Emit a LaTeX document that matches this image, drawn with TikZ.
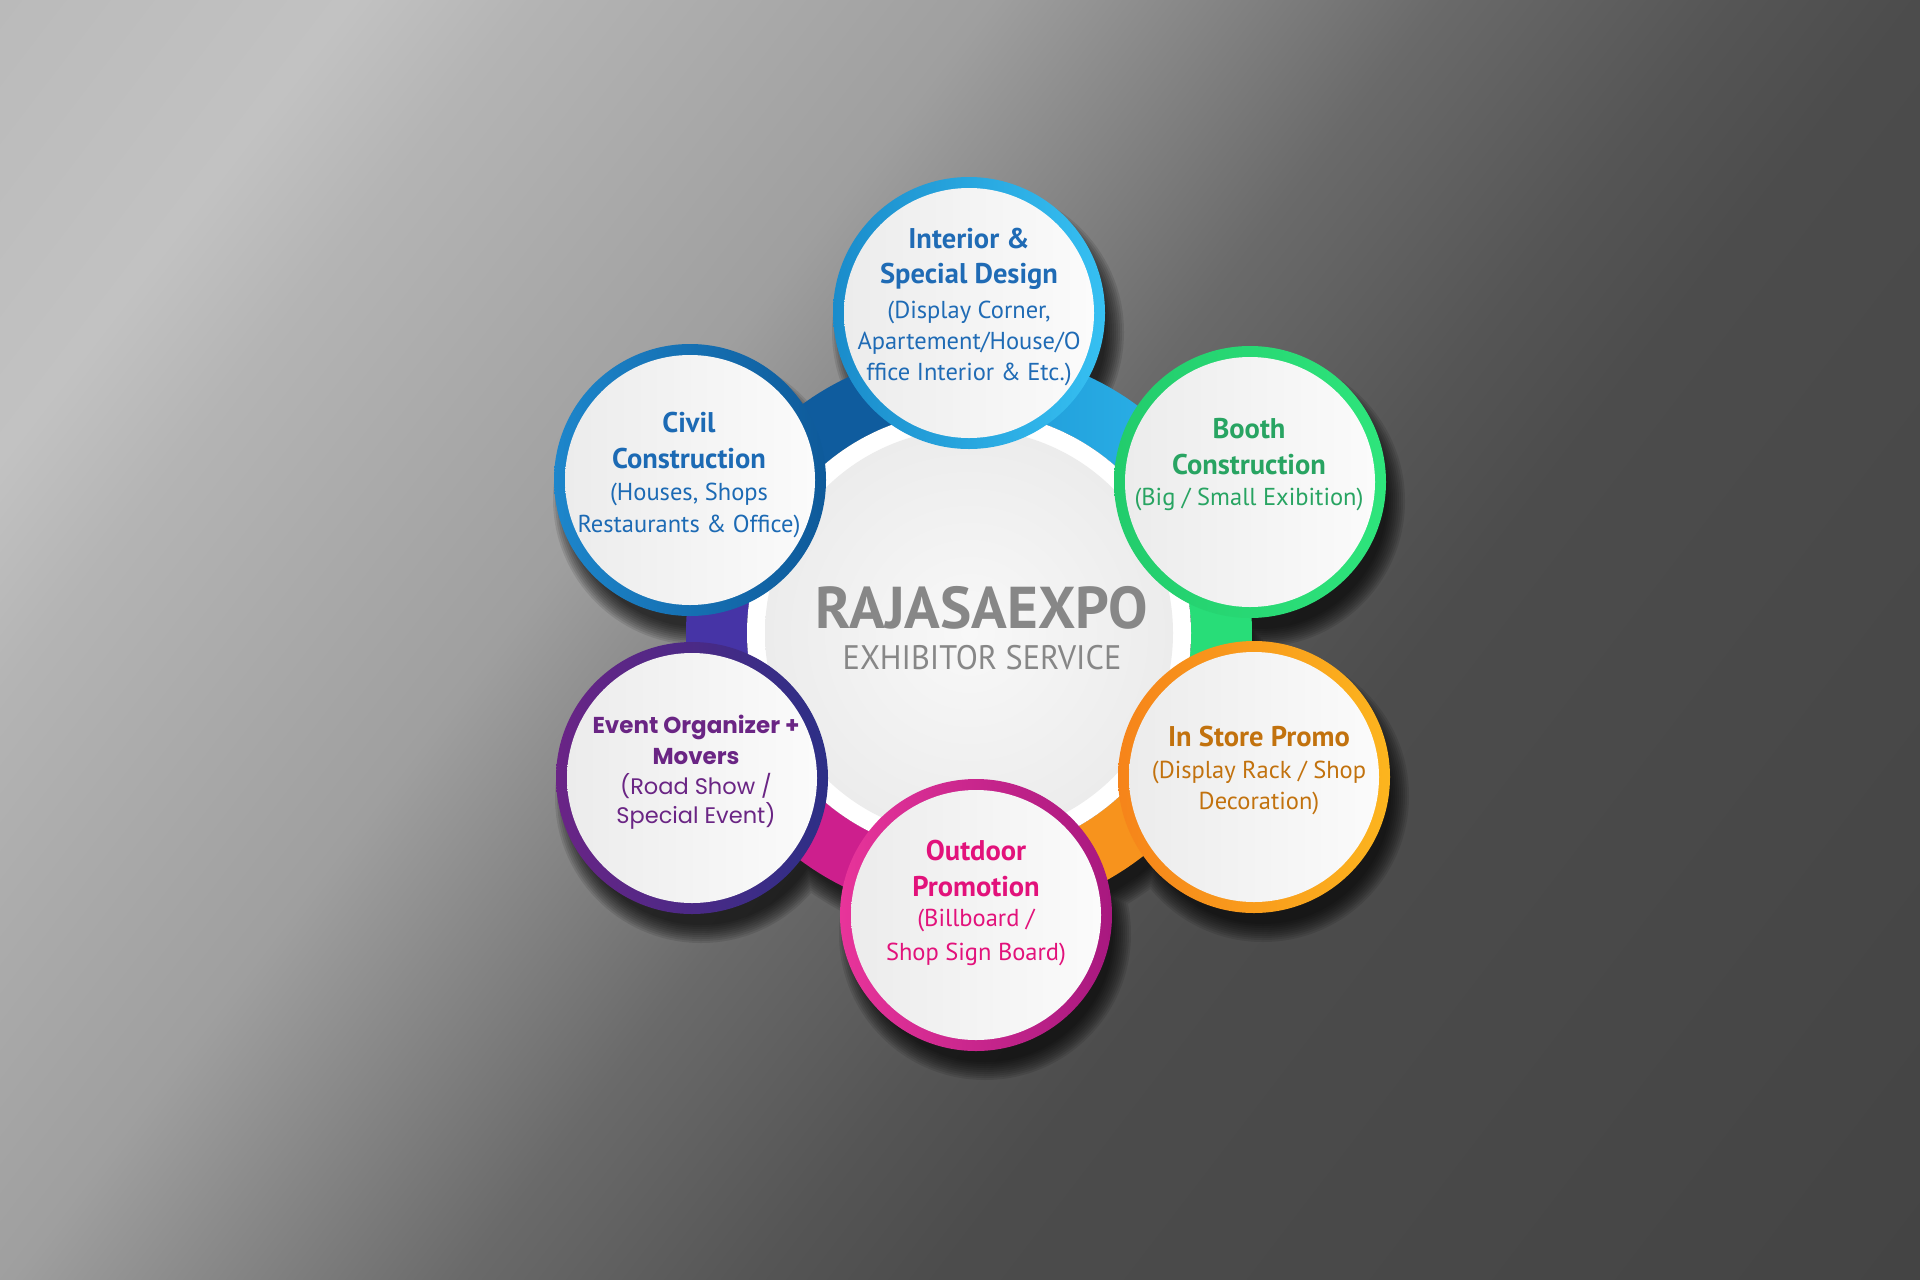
\documentclass[tikz,border=0pt]{standalone}
\usepackage{fontspec}
\setmainfont{PT Sans}
\newfontfamily\montfont{Poppins}
\usepackage{graphicx}
\definecolor{bg0}{HTML}{BABABA}
\definecolor{bg1}{HTML}{C2C2C2}
\definecolor{bg2}{HTML}{B4B4B4}
\definecolor{bg3}{HTML}{9F9F9F}
\definecolor{bg4}{HTML}{8C8C8C}
\definecolor{bg5}{HTML}{6A6A6A}
\definecolor{bg6}{HTML}{555555}
\definecolor{bg7}{HTML}{4C4C4C}
\definecolor{bg8}{HTML}{444444}
\definecolor{fillL}{HTML}{ECECEC}
\definecolor{fillR}{HTML}{FBFBFB}
\definecolor{intL}{HTML}{1A8CCB}
\definecolor{intR}{HTML}{36C0F2}
\definecolor{intT}{HTML}{1F6BB5}
\definecolor{civL}{HTML}{1D86CB}
\definecolor{civR}{HTML}{0E5A9A}
\definecolor{civT}{HTML}{1C6AB4}
\definecolor{booL}{HTML}{22CC6C}
\definecolor{booR}{HTML}{2EE57C}
\definecolor{booT}{HTML}{28A462}
\definecolor{insL}{HTML}{F6841A}
\definecolor{insR}{HTML}{FCB51E}
\definecolor{insT}{HTML}{C2720E}
\definecolor{outL}{HTML}{E8349A}
\definecolor{outR}{HTML}{A8187F}
\definecolor{outT}{HTML}{E2127B}
\definecolor{evtL}{HTML}{6A2486}
\definecolor{evtR}{HTML}{2C2F86}
\definecolor{evtT}{HTML}{6A2584}
\definecolor{segLBa}{HTML}{1E98D6}
\definecolor{segLBb}{HTML}{2DB6EB}
\definecolor{segGR}{HTML}{28DD78}
\definecolor{segOR}{HTML}{F7931D}
\definecolor{segMG}{HTML}{CD1F8D}
\definecolor{segIN}{HTML}{4634A6}
\definecolor{segDB}{HTML}{0F5C9E}
\definecolor{ctext}{HTML}{878787}
\definecolor{diskIn}{HTML}{F8F8F8}
\definecolor{diskOut}{HTML}{ECECEC}
\pgfdeclarehorizontalshading{bgshade}{100bp}{color(0bp)=(bg0); color(20bp)=(bg0); color(27.3bp)=(bg1); color(31bp)=(bg2); color(40.5bp)=(bg3); color(43.8bp)=(bg4); color(49.8bp)=(bg5); color(55.9bp)=(bg6); color(59.7bp)=(bg7); color(80bp)=(bg8); color(100bp)=(bg8)}
\tikzset{
  lbl/.style={anchor=base, inner sep=0pt, outer sep=0pt},
  bubble/.style={circle, minimum size=272pt, inner sep=0pt, draw=none},
  bubblein/.style={circle, minimum size=250pt, inner sep=0pt, draw=none, left color=fillL, right color=fillR},
  ttl/.style={lbl, font=\fontsize{28.5}{30}\selectfont\bfseries},
  sub/.style={lbl, font=\fontsize{24.5}{26}\selectfont},
  ettl/.style={lbl, font=\montfont\fontsize{23}{25}\selectfont\bfseries},
  esub/.style={lbl, font=\montfont\fontsize{22.5}{24}\selectfont},
  shadowlayer/.style={black, opacity=0.1},
}
\begin{document}
\begin{tikzpicture}[x=1pt,y=1pt]
\useasboundingbox (0,0) rectangle (1920,-1280);
% background
\begin{scope}
  \clip (0,0) rectangle (1920,-1280);
  \shade[shading=bgshade, shading angle=-37.5] (0,320) rectangle (1920,-1600);
\end{scope}
% soft shadows (union per layer)
\foreach \e in {10,8,...,-8}{
  \fill[shadowlayer]
    (978,-652) circle ({283+\e})
    (978,-332) circle ({136+\e})
    (699,-499) circle ({136+\e})
    (1259,-501) circle ({136+\e})
    (701,-797) circle ({136+\e})
    (1263,-796) circle ({136+\e})
    (985,-934) circle ({136+\e});
}
% ring segments
\begin{scope}[shift={(969,-633)}]
  \shade[left color=segLBa, right color=segLBb] (91:283) arc[start angle=91, end angle=28.3, radius=283] -- (28.3:222) arc[start angle=28.3, end angle=91, radius=222] -- cycle;
  \fill[segGR] (28.3:283) arc[start angle=28.3, end angle=-26.8, radius=283] -- (-26.8:222) arc[start angle=-26.8, end angle=28.3, radius=222] -- cycle;
  \fill[segOR] (-26.8:283) arc[start angle=-26.8, end angle=-88.6, radius=283] -- (-88.6:222) arc[start angle=-88.6, end angle=-26.8, radius=222] -- cycle;
  \fill[segMG] (-88.6:283) arc[start angle=-88.6, end angle=-152.4, radius=283] -- (-152.4:222) arc[start angle=-152.4, end angle=-88.6, radius=222] -- cycle;
  \fill[segIN] (-152.4:283) arc[start angle=-152.4, end angle=-208.7, radius=283] -- (-208.7:222) arc[start angle=-208.7, end angle=-152.4, radius=222] -- cycle;
  \fill[segDB] (151.3:283) arc[start angle=151.3, end angle=90, radius=283] -- (90:222) arc[start angle=90, end angle=151.3, radius=222] -- cycle;
\end{scope}
% central disk
\node[circle, minimum size=444pt, inner sep=0pt, fill=white] (wdisk) at (969,-633) {};
\node[circle, minimum size=408pt, inner sep=0pt, inner color=diskIn, outer color=diskOut] (gdisk) at (969,-633) {};
% bubbles
\node[bubble, left color=intL, right color=intR] (interior) at (969,-313) {};
\node[bubblein] (interiorin) at (interior.center) {};
\node[bubble, left color=civL, right color=civR] (civil) at (690,-480) {};
\node[bubblein] (civilin) at (civil.center) {};
\node[bubble, left color=booL, right color=booR] (booth) at (1250,-482) {};
\node[bubblein] (boothin) at (booth.center) {};
\node[bubble, left color=evtL, right color=evtR] (event) at (692,-778) {};
\node[bubblein] (eventin) at (event.center) {};
\node[bubble, left color=insL, right color=insR] (instore) at (1254,-777) {};
\node[bubblein] (instorein) at (instore.center) {};
\node[bubble, left color=outL, right color=outR] (outdoor) at (976,-915) {};
\node[bubblein] (outdoorin) at (outdoor.center) {};
% center text
\node[lbl, text=ctext, font=\fontsize{59}{62}\selectfont\bfseries] (rajasa) at (982,-628) {\scalebox{1.0}[1]{RAJASAEXPO}};
\node[lbl, text=ctext, font=\fontsize{34}{36}\selectfont] (exhib) at (982,-669) {\scalebox{0.95}[1]{EXHIBITOR SERVICE}};
% interior text
\node[ttl, text=intT] (int1) at (969,-248) {Interior \&};
\node[ttl, text=intT] (int2) at (969,-283) {Special Design};
\node[sub, text=intT] (int3) at (969,-318) {(Display Corner,};
\node[sub, text=intT] (int4) at (969,-349) {Apartement/House/O};
\node[sub, text=intT] (int5) at (969,-380.5) {ffice Interior \& Etc.)};
% civil text
\node[ttl, text=civT] (civ1) at (689,-432) {Civil};
\node[ttl, text=civT] (civ2) at (689,-468) {Construction};
\node[sub, text=civT] (civ3) at (689,-500.5) {(Houses, Shops};
\node[sub, text=civT] (civ4) at (689,-532) {Restaurants \& Office)};
% booth text
\node[ttl, text=booT] (boo1) at (1249,-438) {Booth};
\node[ttl, text=booT] (boo2) at (1249,-474) {Construction};
\node[sub, text=booT] (boo3) at (1249,-505.5) {(Big / Small Exibition)};
% event text
\node[ettl, text=evtT] (evt1) at (696,-733) {Event Organizer +};
\node[ettl, text=evtT] (evt2) at (696,-764) {Movers};
\node[esub, text=evtT] (evt3) at (696,-794) {(Road Show /};
\node[esub, text=evtT] (evt4) at (696,-823) {Special Event)};
% in store text
\node[ttl, text=insT] (ins1) at (1259,-746.5) {In Store Promo};
\node[sub, text=insT] (ins2) at (1259,-778) {(Display Rack / Shop};
\node[sub, text=insT] (ins3) at (1259,-809) {Decoration)};
% outdoor text
\node[ttl, text=outT] (out1) at (976,-860) {Outdoor};
\node[ttl, text=outT] (out2) at (976,-896) {Promotion};
\node[sub, text=outT] (out3) at (976,-926.5) {(Billboard /};
\node[sub, text=outT] (out4) at (976,-960) {Shop Sign Board)};
\end{tikzpicture}
\end{document}
